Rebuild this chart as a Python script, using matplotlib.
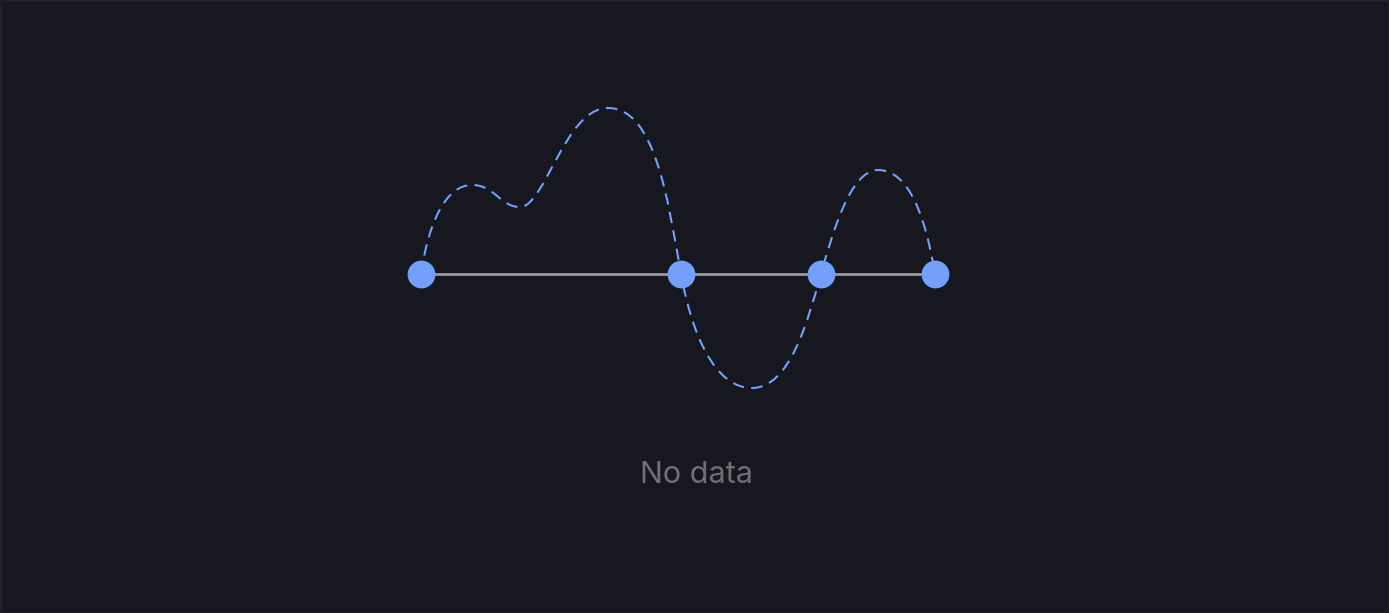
import matplotlib.pyplot as plt
from matplotlib.path import Path
from matplotlib.patches import PathPatch, Rectangle

# pixel-like coordinates, y grows downward
marker_x = [421, 681, 821, 935]
marker_y = [274, 274, 274, 274]

# cubic bezier vertices: start, then (ctrl1, ctrl2, end) per segment
curve_x = [421, 428, 445, 472, 495, 500, 520, 545, 565, 608, 655, 668, 681,
           692, 715, 752, 790, 808, 821, 832, 850, 878, 910, 926, 935]
curve_y = [274, 225, 185, 185, 185, 207, 207, 207, 108, 108, 108, 200, 274,
           335, 388, 388, 388, 320, 274, 235, 170, 170, 170, 220, 274]

bg = '#17181f'
blue = '#73a0fa'

fig = plt.figure(figsize=(13.89, 6.13), dpi=100)
fig.patch.set_facecolor(bg)
ax = fig.add_axes([0, 0, 1, 1])
ax.set_facecolor(bg)
ax.set_xlim(0, 1389)
ax.set_ylim(613, 0)
ax.axis('off')

# panel border
ax.add_patch(Rectangle((0.5, 0.5), 1388, 612, fill=False, edgecolor='#202128', linewidth=1.5))

ax.plot([marker_x[0], marker_x[-1]], [marker_y[0], marker_y[-1]], color='#9a9aa2', linewidth=2, zorder=2)

codes = [Path.MOVETO] + [Path.CURVE4] * (len(curve_x) - 1)
path = Path(list(zip(curve_x, curve_y)), codes)
ax.add_patch(PathPatch(path, fill=False, edgecolor=blue, linewidth=1.5,
                       linestyle=(0, (5.5, 3.5)), zorder=3))

ax.scatter(marker_x, marker_y, s=400, color=blue, zorder=4, linewidths=0)

ax.text(697, 475, 'No data', color='#6e7076', fontsize=22, family=['Inter', 'DejaVu Sans'],
        ha='center', va='center')

plt.savefig('out.png', dpi=100, facecolor=bg)
